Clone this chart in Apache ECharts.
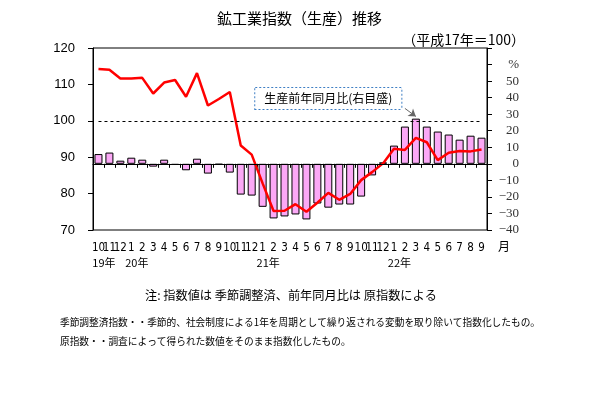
<!DOCTYPE html>
<html><head><meta charset="utf-8">
<script src="https://cdn.jsdelivr.net/npm/echarts@6/dist/echarts.min.js"></script>
<style>html,body{margin:0;padding:0;background:#fff}#c{width:600px;height:394px}</style>
</head><body><div id="c"></div>
<script>
const categories = ['2019-10','2019-11','2019-12','2020-01','2020-02','2020-03','2020-04','2020-05','2020-06','2020-07','2020-08','2020-09','2020-10','2020-11','2020-12','2021-01','2021-02','2021-03','2021-04','2021-05','2021-06','2021-07','2021-08','2021-09','2021-10','2021-11','2021-12','2022-01','2022-02','2022-03','2022-04','2022-05','2022-06','2022-07','2022-08','2022-09'];
const monthLabels = ['10','11','12','1','2','3','4','5','6','7','8','9','10','11','12','1','2','3','4','5','6','7','8','9','10','11','12','1','2','3','4','5','6','7','8','9'];
const yearLabels = ['19年','','','20年','','','','','','','','','','','','21年','','','','','','','','','','','','22年','','','','','','','',''];
// 鉱工業指数（季節調整済, left axis)
const productionIndex = [114.2,114.0,111.6,111.6,111.8,107.5,110.5,111.2,106.6,113.1,104.2,106.0,107.9,93.2,90.7,82.8,75.2,75.3,77.1,75.0,77.5,80.2,78.3,79.9,83.7,85.9,88.3,92.3,92.0,95.3,94.1,89.2,91.2,91.7,91.6,92.1];
// 生産前年同月比 % (right axis)
const yoyChange = [5.9,6.8,1.9,3.7,2.5,-1.7,2.5,-0.7,-3.9,3.1,-5.9,-0.5,-5.3,-18.6,-19.2,-26.0,-33.0,-31.8,-30.6,-33.6,-24.0,-26.5,-24.6,-24.6,-19.8,-7.0,0.9,11.0,22.5,27.3,22.5,19.5,17.7,14.6,17.0,15.8];
const baseLevel = 100;
const leftAxisRange = [70, 120, 10];
const rightAxisRange = [-40, 70, 10];
const calloutText = '生産前年同月比(右目盛)';

const chart = echarts.init(document.getElementById('c'), null, {renderer: 'canvas'});
const jp = '"Noto Sans CJK JP", sans-serif';
chart.setOption({
  animation: false,
  backgroundColor: '#fff',
  title: [
    {text: '鉱工業指数（生産）推移', left: 212, top: 6,
     textStyle: {fontFamily: jp, fontSize: 15, fontWeight: 'normal', color: '#000'}},
    {text: '（平成17年＝100）', right: 70, top: 28,
     textStyle: {fontFamily: jp, fontSize: 14, fontWeight: 'normal', color: '#000'}},
    {text: '月', left: 493, top: 235,
     textStyle: {fontFamily: jp, fontSize: 12, fontWeight: 'normal', color: '#000'}},
    {text: '注: 指数値は 季節調整済、前年同月比は 原指数による', left: 140, top: 284,
     textStyle: {fontFamily: jp, fontSize: 12.2, fontWeight: 'normal', color: '#000'}},
    {text: '季節調整済指数・・季節的、社会制度による1年を周期として繰り返される変動を取り除いて指数化したもの。', left: 55, top: 312,
     textStyle: {fontFamily: jp, fontSize: 9.7, fontWeight: 'normal', color: '#000'}},
    {text: '原指数・・調査によって得られた数値をそのまま指数化したもの。', left: 55, top: 331,
     textStyle: {fontFamily: jp, fontSize: 9.7, fontWeight: 'normal', color: '#000'}}
  ],
  grid: {left: 93, right: 113, top: 48, bottom: 164, show: true, borderColor: '#000', borderWidth: 1, backgroundColor: 'transparent'},
  xAxis: [
    {type: 'category', data: categories, boundaryGap: true, position: 'bottom',
     axisLine: {lineStyle: {color: '#000', width: 1}},
     axisTick: {show: true, length: 4, interval: 0, lineStyle: {color: '#000'}},
     axisLabel: {interval: 0, margin: 12, color: '#000', fontSize: 11.5,
       fontFamily: '"Liberation Sans Narrow", "DejaVu Sans Condensed", sans-serif',
       formatter: (v, i) => monthLabels[i]},
     splitLine: {show: false}},
    {type: 'category', data: categories, boundaryGap: true, position: 'bottom', gridIndex: 0,
     axisLine: {show: false}, axisTick: {show: false},
     axisLabel: {interval: 0, margin: 27, color: '#000', fontSize: 11, fontFamily: jp,
       formatter: (v, i) => yearLabels[i] ? '{y|' + yearLabels[i] + '}' : '',
       rich: {y: {fontFamily: jp, fontSize: 11, color: '#000', padding: [0, 0, 0, 11]}}},
     splitLine: {show: false}}
  ],
  yAxis: [
    {type: 'value', position: 'left', min: leftAxisRange[0], max: leftAxisRange[1], interval: leftAxisRange[2],
     axisLine: {show: true, lineStyle: {color: '#000', width: 1}},
     axisTick: {show: true, length: 5, lineStyle: {color: '#000'}},
     axisLabel: {margin: 18, color: '#000', fontSize: 13, fontFamily: '"Liberation Sans", Arial, sans-serif'},
     splitLine: {show: false}},
    {type: 'value', position: 'right', min: rightAxisRange[0], max: rightAxisRange[1], interval: rightAxisRange[2],
     axisLine: {show: true, lineStyle: {color: '#000', width: 1}},
     axisTick: {show: true, length: 5, lineStyle: {color: '#000'}},
     axisLabel: {margin: 32, align: 'right', color: '#333', fontSize: 13, fontFamily: '"Liberation Serif", serif',
       formatter: v => v === 60 ? '%' : (v > 50 ? '' : String(v).replace('-', '−'))},
     splitLine: {show: false}}
  ],
  series: [
    {type: 'bar', name: '生産前年同月比', xAxisIndex: 0, yAxisIndex: 1, data: yoyChange, barWidth: 8,
     itemStyle: {color: '#fba8f6', borderColor: '#000', borderWidth: 1}, z: 2,
     markLine: {silent: true, symbol: 'none', label: {show: false},
       data: [
         {yAxis: 0, lineStyle: {color: '#000', width: 1, type: 'solid'}},
         [{coord: [categories[28], 33.5], symbol: 'none', lineStyle: {color: '#666', width: 1, type: 'solid'}},
          {coord: [categories[29], 28.6], symbol: 'arrow', symbolSize: 7}]
       ]},
     markPoint: {silent: true, symbol: 'rect', symbolSize: 1, itemStyle: {color: 'transparent'},
       data: [{coord: [categories[21], 39.5], value: 0,
         label: {show: true, position: 'inside', formatter: calloutText, color: '#000', fontSize: 12, fontFamily: jp,
           backgroundColor: '#fff', borderColor: '#3f7fc4', borderWidth: 1, borderType: 'dotted', padding: [5, 9, 4, 9]}}]}},
    {type: 'line', name: '鉱工業指数', xAxisIndex: 0, yAxisIndex: 0, data: productionIndex,
     symbol: 'none', lineStyle: {color: '#ff0000', width: 2.5}, itemStyle: {color: '#ff0000'}, z: 3,
     markLine: {silent: true, symbol: 'none', label: {show: false},
       data: [[{coord: [categories[0], baseLevel]}, {coord: [categories[35], baseLevel]}]],
       lineStyle: {color: '#000', width: 1, type: [3, 3]}}}
  ]
});
</script></body></html>
